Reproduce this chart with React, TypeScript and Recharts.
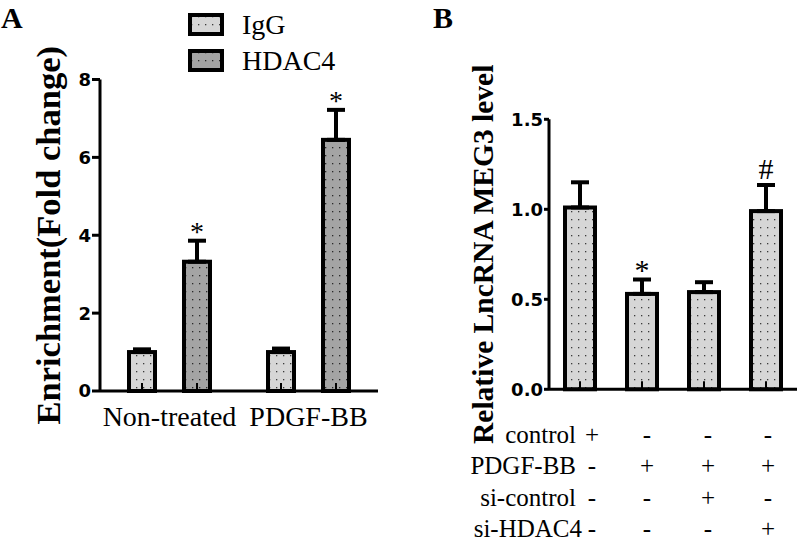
import React from 'react';
import { BarChart, Bar, XAxis, YAxis, ErrorBar, Legend } from 'recharts';

// ---------- Panel A data ----------
const categoriesA = ['Non-treated', 'PDGF-BB'];
const seriesNamesA = ['IgG', 'HDAC4'];
const iggValues = [1.0, 1.0];
const iggErrors = [0.07, 0.09];
const hdac4Values = [3.32, 6.45];
const hdac4Errors = [0.54, 0.77];
const iggMarks = ['', ''];
const hdac4Marks = ['*', '*'];
const yTicksA = [0, 2, 4, 6, 8];
const yLabelA = 'Enrichment(Fold change)';

// ---------- Panel B data ----------
const groupsB = ['g1', 'g2', 'g3', 'g4'];
const meg3Values = [1.01, 0.53, 0.54, 0.99];
const meg3Errors = [0.14, 0.08, 0.055, 0.145];
const meg3Marks = ['', '*', '', '#'];
const yTicksB = [0, 0.5, 1.0, 1.5];
const yLabelB = 'Relative LncRNA MEG3 level';
const tableRowLabels = ['control', 'PDGF-BB', 'si-control', 'si-HDAC4'];
const controlSigns = ['+', '-', '-', '-'];
const pdgfSigns = ['-', '+', '+', '+'];
const siControlSigns = ['-', '-', '+', '-'];
const siHdac4Signs = ['-', '-', '-', '+'];

const panelLetters = ['A', 'B'];

const dataA = categoriesA.map((c, i) => ({
  category: c,
  igg: iggValues[i],
  iggErr: [0, iggErrors[i]],
  iggMark: iggMarks[i],
  hdac4: hdac4Values[i],
  hdac4Err: [0, hdac4Errors[i]],
  hdac4Mark: hdac4Marks[i],
}));

const dataB = groupsB.map((g, i) => ({
  group: g,
  meg3: meg3Values[i],
  meg3Err: [0, meg3Errors[i]],
  meg3Mark: meg3Marks[i],
}));

const SERIF = '"Liberation Serif", "Times New Roman", serif';
const SANS = '"DejaVu Sans", sans-serif';
const FILL_LIGHT = 'url(#dotsLight)';
const FILL_DARK = 'url(#dotsDark)';
const legendFills = [FILL_LIGHT, FILL_DARK];

function makeShape(fill: string, valueKey: string, errKey: string, markKey: string, markFont: number) {
  return (props: any) => {
    const { x, y, width, height, payload } = props;
    if (x == null || y == null || !payload) return <g />;
    const cx = x + width / 2;
    const bottom = y + height;
    const v = payload[valueKey];
    const e = payload[errKey] ? payload[errKey][1] : 0;
    const errTop = v ? y - e * (height / v) : y;
    const mark = payload[markKey];
    return (
      <g>
        <rect x={x} y={y} width={width} height={height} fill={fill} stroke="#000" strokeWidth={4} />
        <line x1={cx} x2={cx} y1={bottom} y2={bottom - 8} stroke="#000" strokeWidth={2} />
        {mark ? (
          <text
            x={cx}
            y={errTop - (mark === '#' ? 6 : 0)}
            textAnchor="middle"
            fontFamily={SERIF}
            fontSize={markFont}
            fill="#000"
          >
            {mark}
          </text>
        ) : null}
      </g>
    );
  };
}

const renderLegend = () => {
  return (
    <div style={{ display: 'flex', flexDirection: 'column' }}>
      {seriesNamesA.map((name, i) => (
        <div key={i} style={{ display: 'flex', alignItems: 'center', height: 36 }}>
          <svg width={36} height={23} style={{ display: 'block' }}>
            <rect x={2} y={2} width={32} height={19} fill={legendFills[i]} stroke="#000" strokeWidth={4} />
          </svg>
          <span style={{ marginLeft: 18, fontFamily: SERIF, fontSize: 28, lineHeight: '36px', color: '#000' }}>
            {name}
          </span>
        </div>
      ))}
    </div>
  );
};

const makeYLabel = (text: string, baselineOffset: number, fontSize: number) => (props: any) => {
  const vb = props.viewBox || {};
  const bx = (vb.x ?? 0) + baselineOffset;
  const cy = (vb.y ?? 0) + (vb.height ?? 0) / 2;
  return (
    <text
      x={bx}
      y={cy}
      transform={`rotate(-90 ${bx} ${cy})`}
      textAnchor="middle"
      fontFamily={SERIF}
      fontWeight="bold"
      fontSize={fontSize}
      fill="#000"
    >
      {text}
    </text>
  );
};

const TableTick = (props: any) => {
  const { x, y, payload } = props;
  let i = payload && typeof payload.index === 'number' ? payload.index : groupsB.indexOf(payload?.value);
  if (i < 0) i = 0;
  const colOffsets = [12, 5, 4, 2];
  const rowOffsets = [54, 85, 117, 147.5];
  const rows = [controlSigns, pdgfSigns, siControlSigns, siHdac4Signs];
  return (
    <g>
      {i === 0 &&
        tableRowLabels.map((lab, r) => (
          <text
            key={'l' + r}
            x={x - 4 + (r === 3 ? 6 : 0)}
            y={y + rowOffsets[r]}
            textAnchor="end"
            fontFamily={SERIF}
            fontSize={25}
            fill="#000"
          >
            {lab}
          </text>
        ))}
      {rows.map((signs, r) => (
        <text
          key={'s' + r}
          x={x + colOffsets[i]}
          y={y + rowOffsets[r]}
          textAnchor="middle"
          fontFamily={SERIF}
          fontSize={25}
          fill="#000"
        >
          {signs[i]}
        </text>
      ))}
    </g>
  );
};

const axisStyle = { stroke: '#000', strokeWidth: 3 };
const yTickStyle = { fill: '#000', fontSize: 18, fontWeight: 'bold', fontFamily: SANS };

export default function App() {
  return (
    <div style={{ position: 'absolute', left: 0, top: 0, width: 800, height: 543, background: '#fff', overflow: 'hidden' }}>
      <svg width={0} height={0} style={{ position: 'absolute' }}>
        <defs>
          <pattern id="dotsLight" width={7} height={8} patternUnits="userSpaceOnUse">
            <rect width={7} height={8} fill="#d6d6d6" />
            <rect x={3} y={3} width={1.3} height={1.3} fill="#3a3a3a" />
          </pattern>
          <pattern id="dotsDark" width={7} height={8} patternUnits="userSpaceOnUse">
            <rect width={7} height={8} fill="#a4a4a4" />
            <rect x={3} y={3} width={1.3} height={1.3} fill="#2a2a2a" />
          </pattern>
        </defs>
      </svg>

      <div style={{ position: 'absolute', left: 0, top: 0 }}>
        <BarChart
          width={400}
          height={543}
          data={dataA}
          margin={{ top: 79.5, right: 22, bottom: 112, left: 0 }}
          barSize={26}
          barGap={29}
        >
          <XAxis
            dataKey="category"
            height={40}
            axisLine={axisStyle}
            tickLine={false}
            tickSize={0}
            tickMargin={15}
            tick={{ fill: '#000', fontSize: 28, fontFamily: SERIF }}
            interval={0}
          />
          <YAxis
            width={100}
            domain={[0, 8]}
            ticks={yTicksA}
            axisLine={axisStyle}
            tickLine={axisStyle}
            tickSize={8}
            tickMargin={1}
            tick={yTickStyle}
            label={{ content: makeYLabel(yLabelA, 60, 34.5) } as any}
          />
          <Legend
            layout="vertical"
            align="center"
            verticalAlign="middle"
            wrapperStyle={{ top: 6.5, left: 188, width: 200 }}
            content={renderLegend}
          />
          <Bar
            dataKey="igg"
            name={seriesNamesA[0]}
            fill={FILL_LIGHT}
            isAnimationActive={false}
            shape={makeShape(FILL_LIGHT, 'igg', 'iggErr', 'iggMark', 28)}
          >
            <ErrorBar dataKey="iggErr" width={9} strokeWidth={4} stroke="#000" direction="y" isAnimationActive={false} />
          </Bar>
          <Bar
            dataKey="hdac4"
            name={seriesNamesA[1]}
            fill={FILL_DARK}
            isAnimationActive={false}
            shape={makeShape(FILL_DARK, 'hdac4', 'hdac4Err', 'hdac4Mark', 28)}
          >
            <ErrorBar dataKey="hdac4Err" width={9} strokeWidth={4} stroke="#000" direction="y" isAnimationActive={false} />
          </Bar>
        </BarChart>
      </div>

      <div style={{ position: 'absolute', left: 400, top: 0 }}>
        <BarChart
          width={400}
          height={543}
          data={dataB}
          margin={{ top: 119.3, right: 3, bottom: 113.7, left: 0 }}
          barSize={30}
        >
          <XAxis
            dataKey="group"
            height={40}
            axisLine={axisStyle}
            tickLine={false}
            tickSize={0}
            tickMargin={0}
            tick={<TableTick />}
            interval={0}
          />
          <YAxis
            width={149}
            domain={[0, 1.5]}
            ticks={yTicksB}
            axisLine={axisStyle}
            tickLine={axisStyle}
            tickSize={5}
            tickMargin={1}
            tick={yTickStyle}
            tickFormatter={(v: number) => v.toFixed(1)}
            label={{ content: makeYLabel(yLabelB, 93, 29.5) } as any}
          />
          <Bar
            dataKey="meg3"
            fill={FILL_LIGHT}
            isAnimationActive={false}
            shape={makeShape(FILL_LIGHT, 'meg3', 'meg3Err', 'meg3Mark', 30)}
          >
            <ErrorBar dataKey="meg3Err" width={9} strokeWidth={4} stroke="#000" direction="y" isAnimationActive={false} />
          </Bar>
        </BarChart>
      </div>

      <svg width={800} height={543} style={{ position: 'absolute', left: 0, top: 0, pointerEvents: 'none' }}>
        <text x={1} y={28} fontFamily={SERIF} fontWeight="bold" fontSize={30} fill="#000">{panelLetters[0]}</text>
        <text x={433} y={28} fontFamily={SERIF} fontWeight="bold" fontSize={30} fill="#000">{panelLetters[1]}</text>
      </svg>
    </div>
  );
}
